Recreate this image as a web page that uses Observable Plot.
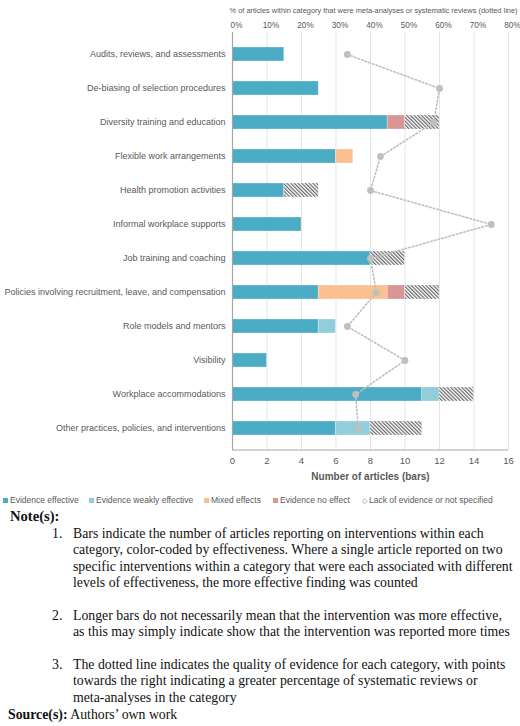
<!DOCTYPE html>
<html>
<head>
<meta charset="utf-8">
<script src="https://cdn.jsdelivr.net/npm/d3@7"></script>
<script src="https://cdn.jsdelivr.net/npm/@observablehq/plot@0.6"></script>
<style>
  html, body { margin: 0; padding: 0; background: #fff; }
  body { width: 520px; font-family: "Liberation Sans", Arial, sans-serif; }
  #chart svg { display: block; overflow: visible; }
  .legend { font-size: 8.5px; color: #595959; height: 14px; margin-top: 7px; white-space: nowrap; position: relative; }
  .legend span.item { position: absolute; top: 2px; }
  .sw { display: inline-block; width: 5px; height: 5px; margin-right: 2px; vertical-align: 0px; }
  .notes { font-family: "Liberation Serif", "Times New Roman", serif; color: #111; font-size: 13.8px; line-height: 16.5px; }
  .notes .head { font-weight: bold; margin-left: 10px; font-size: 14.6px; }
  .notes ol { margin: 0; padding: 0; list-style: none; }
  .notes li { position: relative; padding-left: 73px; white-space: nowrap; }
  .notes li .num { position: absolute; left: 52px; }
</style>
</head>
<body>
<div id="chart"></div>
<div class="legend" id="legend"></div>
<div class="notes">
  <div class="head" style="margin-top:1px">Note(s):</div>
  <ol>
    <li style="margin-top:1px"><span class="num">1.</span>Bars indicate the number of articles reporting on interventions within each<br>category, color-coded by effectiveness. Where a single article reported on two<br>specific interventions within a category that were each associated with different<br>levels of effectiveness, the more effective finding was counted</li>
    <li style="margin-top:16px"><span class="num">2.</span>Longer bars do not necessarily mean that the intervention was more effective,<br>as this may simply indicate show that the intervention was reported more times</li>
    <li style="margin-top:16px"><span class="num">3.</span>The dotted line indicates the quality of evidence for each category, with points<br>towards the right indicating a greater percentage of systematic reviews or<br>meta-analyses in the category</li>
  </ol>
  <div style="margin-top:1px; margin-left:8px"><b>Source(s):</b> Authors’ own work</div>
</div>
<script>
const categories = [
  "Audits, reviews, and assessments",
  "De-biasing of selection procedures",
  "Diversity training and education",
  "Flexible work arrangements",
  "Health promotion activities",
  "Informal workplace supports",
  "Job training and coaching",
  "Policies involving recruitment, leave, and compensation",
  "Role models and mentors",
  "Visibility",
  "Workplace accommodations",
  "Other practices, policies, and interventions"
];
const statuses = ["Evidence effective", "Evidence weakly effective", "Mixed effects", "Evidence no effect", "Lack of evidence or not specified"];
const effective = [3, 5, 9, 6, 3, 4, 8, 5, 5, 2, 11, 6];
const weaklyEffective = [0, 0, 0, 0, 0, 0, 0, 0, 1, 0, 1, 2];
const mixedEffects = [0, 0, 0, 1, 0, 0, 0, 4, 0, 0, 0, 0];
const noEffect = [0, 0, 1, 0, 0, 0, 0, 1, 0, 0, 0, 0];
const lackOfEvidence = [0, 0, 2, 0, 2, 0, 2, 2, 0, 0, 2, 3];
const pctReviews = [33.3, 60, 58.3, 42.9, 40, 75, 40, 41.7, 33.3, 50, 35.7, 36.4];
const countTicks = [0, 2, 4, 6, 8, 10, 12, 14, 16];
const pctTicks = [0, 10, 20, 30, 40, 50, 60, 70, 80];
const statusColors = ["#4BACC6", "#92CDDC", "#FAC090", "#D99694", "url(#hatch)"];

const seriesValues = [effective, weaklyEffective, mixedEffects, noEffect, lackOfEvidence];
const rows = [];
categories.forEach((c, i) => {
  statuses.forEach((s, j) => {
    if (seriesValues[j][i] > 0) rows.push({category: c, status: s, value: seriesValues[j][i], order: j});
  });
});
// secondary axis: 0–80% spans the same width as 0–16 articles
const pctToX = p => p / 5;
const dots = categories.map((c, i) => ({category: c, x: pctToX(pctReviews[i])}));
const pctTickRows = pctTicks.map(p => ({x: pctToX(p), label: p + "%"}));

const width = 520, height = 486, mt = 32, mb = 36, ml = 232, mr = 12;

const plot = Plot.plot({
  width, height,
  marginLeft: ml, marginRight: mr, marginTop: mt, marginBottom: mb,
  style: {fontFamily: "'Liberation Sans', Arial, sans-serif", color: "#595959", background: "white"},
  x: {domain: [0, 16]},
  y: {domain: categories, paddingInner: 0.6, paddingOuter: 0.3},
  color: {domain: statuses, range: statusColors},
  marks: [
    Plot.ruleX(countTicks.slice(1), {stroke: "#E4E4E4", strokeWidth: 1}),
    Plot.barX(rows, Plot.stackX({y: "category", x: "value", fill: "status", order: "order", stroke: "white", strokeOpacity: 0.35, strokeWidth: 0.8})),
    Plot.ruleX([0], {stroke: "#A6A6A6", strokeWidth: 1.2}),
    Plot.line(dots, {x: "x", y: "category", stroke: "#BFBFBF", strokeWidth: 1.6, strokeDasharray: "1.6,2.2"}),
    Plot.dot(dots, {x: "x", y: "category", r: 3.4, fill: "#BFBFBF"}),
    Plot.axisY({tickSize: 0, tickPadding: 7, fontSize: 9, label: null}),
    Plot.axisX({anchor: "bottom", ticks: countTicks, tickSize: 0, tickPadding: 7, fontSize: 9.5, label: null}),
    Plot.text(pctTickRows, {x: "x", text: "label", frameAnchor: "top", dy: -10, dx: 4, fontSize: 8.2, fill: "#595959"}),
    Plot.text(["% of articles within category that were meta-analyses or systematic reviews (dotted line)"], {frameAnchor: "top-right", dy: -25, dx: 9, text: d => d, fontSize: 7.4, fill: "#595959"}),
    Plot.text(["Number of articles (bars)"], {frameAnchor: "bottom", dy: 29, text: d => d, fontSize: 10, fontWeight: "bold", fill: "#595959"})
  ]
});

const svg = d3.select(plot);
svg.insert("defs", ":first-child").html(
  '<pattern id="hatch" patternUnits="userSpaceOnUse" width="2.6" height="2.6" patternTransform="rotate(-45)">' +
  '<rect width="2.6" height="2.6" fill="white"/>' +
  '<rect x="0" y="0" width="1.2" height="2.6" fill="#666"/></pattern>'
);
const xs = plot.scale("x");
svg.append("line")
  .attr("x1", xs.apply(0)).attr("x2", xs.apply(16))
  .attr("y1", height - mb).attr("y2", height - mb)
  .attr("stroke", "#A6A6A6").attr("stroke-width", 1.2);
document.getElementById("chart").append(plot);

// legend
const legendX = [3, 89, 204, 273, 362];
const legend = document.getElementById("legend");
statuses.forEach((s, i) => {
  const item = document.createElement("span");
  item.className = "item";
  item.style.left = legendX[i] + "px";
  if (i < 4) {
    item.innerHTML = `<span class="sw" style="background:${statusColors[i]}"></span>${s}`;
  } else {
    item.innerHTML = `<span style="font-size:7px;margin-right:2px;color:#777">◇</span>${s}`;
  }
  legend.append(item);
});
</script>
</body>
</html>
